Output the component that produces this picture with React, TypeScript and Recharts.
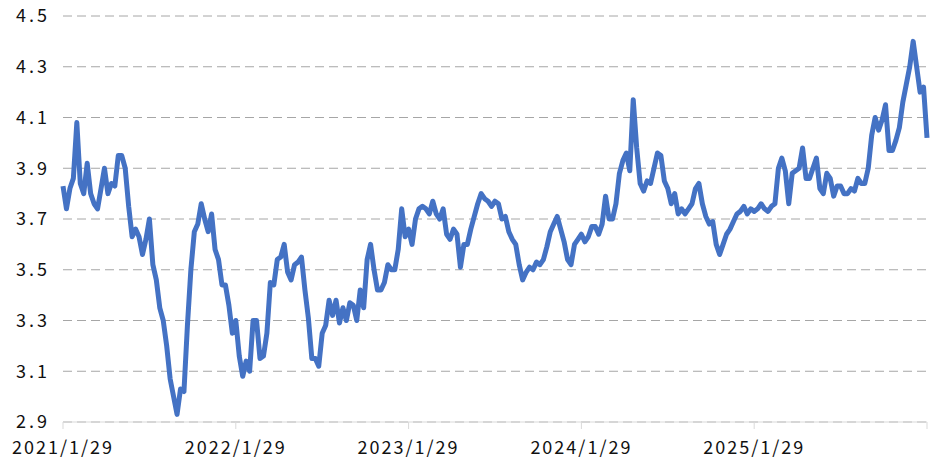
import React from "react";
import {
  LineChart,
  Line,
  XAxis,
  YAxis,
  CartesianGrid,
} from "recharts";

// weekly readings, 50 steps per year starting 2021/1/29
const yields = [
  3.83, 3.74, 3.82, 3.86, 4.08, 3.84, 3.8, 3.92, 3.8, 3.76,
  3.74, 3.82, 3.9, 3.8, 3.84, 3.83, 3.95, 3.95, 3.9, 3.75,
  3.63, 3.66, 3.63, 3.56, 3.62, 3.7, 3.52, 3.46, 3.35, 3.3,
  3.2, 3.07, 3.0, 2.93, 3.03, 3.02, 3.28, 3.5, 3.65, 3.68,
  3.76, 3.7, 3.65, 3.72, 3.58, 3.54, 3.44, 3.44, 3.36, 3.25,
  3.3, 3.16, 3.08, 3.14, 3.1, 3.3, 3.3, 3.15, 3.16, 3.25,
  3.45, 3.44, 3.54, 3.55, 3.6, 3.49, 3.46, 3.52, 3.53, 3.55,
  3.42, 3.31, 3.15, 3.15, 3.12, 3.25, 3.28, 3.38, 3.32, 3.38,
  3.29, 3.35, 3.3, 3.37, 3.36, 3.3, 3.42, 3.35, 3.54, 3.6,
  3.5, 3.42, 3.42, 3.45, 3.52, 3.5, 3.5, 3.58, 3.74, 3.63,
  3.66, 3.6, 3.7, 3.74, 3.75, 3.74, 3.72, 3.77, 3.72, 3.7,
  3.74, 3.64, 3.62, 3.66, 3.64, 3.51, 3.6, 3.6, 3.66, 3.71,
  3.76, 3.8, 3.78, 3.77, 3.75, 3.77, 3.76, 3.7, 3.71, 3.65,
  3.62, 3.6, 3.52, 3.46, 3.49, 3.51, 3.5, 3.53, 3.52, 3.54,
  3.59, 3.65, 3.68, 3.71, 3.66, 3.61, 3.54, 3.52, 3.6, 3.62,
  3.64, 3.61, 3.63, 3.67, 3.67, 3.64, 3.68, 3.79, 3.7, 3.7,
  3.76, 3.88, 3.93, 3.96, 3.89, 4.17, 3.98, 3.84, 3.81, 3.85,
  3.84, 3.9, 3.96, 3.95, 3.85, 3.82, 3.76, 3.8, 3.72, 3.74,
  3.72, 3.74, 3.76, 3.82, 3.84, 3.76, 3.71, 3.68, 3.69, 3.6,
  3.56, 3.6, 3.64, 3.66, 3.69, 3.72, 3.73, 3.75, 3.72, 3.74,
  3.73, 3.74, 3.76, 3.74, 3.73, 3.75, 3.76, 3.9, 3.94, 3.89,
  3.76, 3.88, 3.89, 3.9, 3.98, 3.86, 3.86, 3.9, 3.94, 3.82,
  3.8, 3.88, 3.86, 3.79, 3.83, 3.83, 3.8, 3.8, 3.82, 3.81,
  3.86, 3.84, 3.84, 3.9, 4.03, 4.1, 4.05, 4.09, 4.15, 3.97,
  3.97, 4.01, 4.06, 4.16, 4.23, 4.3, 4.4, 4.3, 4.2, 4.22,
  4.02,
];

const yearTicks = [0, 50, 100, 150, 200, 250];
const yearLabels = ["2021/1/29", "2022/1/29", "2023/1/29", "2024/1/29", "2025/1/29"];
const valueTicks = [2.9, 3.1, 3.3, 3.5, 3.7, 3.9, 4.1, 4.3, 4.5];

const data = yields.map((v, i) => ({ i, v }));

const font = '"Noto Sans CJK SC", "Noto Sans", sans-serif';

export default function App() {
  return (
    <div style={{ margin: -8, width: 945, height: 469, background: "#fff" }}>
      <LineChart
        width={945}
        height={469}
        data={data}
        margin={{ top: 16, right: 18, bottom: 0, left: 0 }}
      >
        <CartesianGrid
          vertical={false}
          stroke="#a6a6a6"
          strokeDasharray="9 5"
        />
        <XAxis
          dataKey="i"
          type="number"
          domain={[0, 250]}
          ticks={yearTicks}
          tickFormatter={(t: number) => yearLabels[yearTicks.indexOf(t)] ?? ""}
          height={47}
          stroke="#d9d9d9"
          tickSize={7}
          tickMargin={12}
          tick={{ fill: "#111", fontSize: 18, fontFamily: font, letterSpacing: 2 }}
          interval={0}
        />
        <YAxis
          domain={[2.9, 4.5]}
          ticks={valueTicks}
          tickFormatter={(t: number) => t.toFixed(1)}
          width={63}
          axisLine={false}
          tickLine={false}
          tickSize={0}
          tickMargin={13}
          tick={{ fill: "#111", fontSize: 18, fontFamily: font, letterSpacing: 3 }}
          interval={0}
        />
        <Line
          type="linear"
          dataKey="v"
          stroke="#4472c4"
          strokeWidth={5}
          dot={false}
          strokeLinejoin="round"
          isAnimationActive={false}
        />
      </LineChart>
    </div>
  );
}
